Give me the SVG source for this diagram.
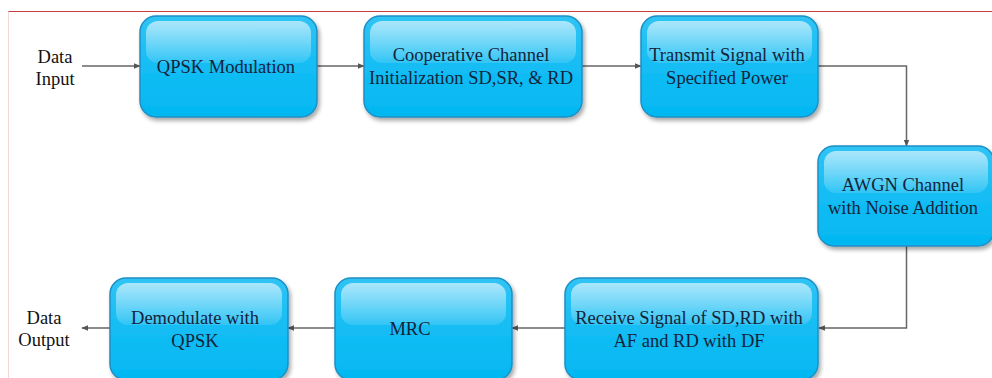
<svg xmlns="http://www.w3.org/2000/svg" width="992" height="378" viewBox="0 0 992 378">
<defs>
<linearGradient id="body" x1="0" y1="0" x2="0" y2="1">
<stop offset="0" stop-color="#30c4f5"/>
<stop offset="0.5" stop-color="#14bdf4"/>
<stop offset="1" stop-color="#03b7f1"/>
</linearGradient>
<linearGradient id="gloss" x1="0" y1="0" x2="0" y2="1">
<stop offset="0" stop-color="#ffffff" stop-opacity="0.6"/>
<stop offset="1" stop-color="#ffffff" stop-opacity="0.12"/>
</linearGradient>
<filter id="sh" x="-10%" y="-10%" width="125%" height="130%">
<feGaussianBlur in="SourceAlpha" stdDeviation="2"/>
<feOffset dx="2" dy="3" result="b"/>
<feComponentTransfer><feFuncA type="linear" slope="0.35"/></feComponentTransfer>
<feMerge><feMergeNode/><feMergeNode in="SourceGraphic"/></feMerge>
</filter>
<marker id="arr" viewBox="0 0 10 10" refX="9" refY="5" markerWidth="7" markerHeight="7" orient="auto" markerUnits="userSpaceOnUse">
<path d="M0,1 L10,5 L0,9 Z" fill="#555"/>
</marker>
</defs>
<style>
.box{fill:url(#body);stroke:#1f8fc4;stroke-width:1.5;filter:url(#sh)}
.gl{fill:url(#gloss)}
text{font-family:"Liberation Serif","DejaVu Serif","Times New Roman",serif;font-size:18.5px;text-anchor:middle}
.t{fill:#14233a}
.lbl{fill:#111}
.c{fill:none;stroke:#666;stroke-width:1.5;marker-end:url(#arr)}
</style>
<rect width="992" height="378" fill="#fff"/>
<line x1="8" y1="11.5" x2="992" y2="11.5" stroke="#c83c3c" stroke-width="1.2"/>
<line x1="8.5" y1="11.5" x2="8.5" y2="378" stroke="#f2d8d8" stroke-width="1"/>

<g id="connectors">
<path class="c" d="M82,66 H140"/>
<path class="c" d="M317,66 H364"/>
<path class="c" d="M582,66 H641"/>
<path class="c" d="M818,66 H906.5 V146"/>
<path class="c" d="M906.5,246 V328 H819"/>
<path class="c" d="M565,328 H512"/>
<path class="c" d="M335,328 H288"/>
<path class="c" d="M110,328 H82"/>
</g>

<g id="data-input">
<text class="lbl" x="55" y="63">Data</text>
<text class="lbl" x="55" y="85">Input</text>
</g>
<g id="qpsk-mod">
<rect class="box" x="140" y="16" width="177" height="101" rx="16"/>
<rect class="gl" x="146" y="21" width="165" height="42" rx="12"/>
<text class="t" x="226" y="73">QPSK Modulation</text>
</g>
<g id="coop">
<rect class="box" x="364" y="16" width="218" height="101" rx="16"/>
<rect class="gl" x="370" y="21" width="206" height="42" rx="12"/>
<text class="t" x="471" y="61">Cooperative Channel</text>
<text class="t" x="471" y="84">Initialization SD,SR, &amp; RD</text>
</g>
<g id="transmit">
<rect class="box" x="641" y="16" width="177" height="101" rx="16"/>
<rect class="gl" x="647" y="21" width="165" height="42" rx="12"/>
<text class="t" x="727" y="61">Transmit Signal with</text>
<text class="t" x="727" y="84">Specified Power</text>
</g>
<g id="awgn">
<rect class="box" x="818" y="146" width="176" height="100" rx="16"/>
<rect class="gl" x="824" y="151" width="164" height="42" rx="12"/>
<text class="t" x="903" y="191">AWGN Channel</text>
<text class="t" x="903" y="214">with Noise Addition</text>
</g>
<g id="receive">
<rect class="box" x="565" y="278" width="253" height="102" rx="16"/>
<rect class="gl" x="571" y="283" width="241" height="42" rx="12"/>
<text class="t" x="689" y="324">Receive Signal of SD,RD with</text>
<text class="t" x="689" y="347">AF and RD with DF</text>
</g>
<g id="mrc">
<rect class="box" x="335" y="278" width="177" height="102" rx="16"/>
<rect class="gl" x="341" y="283" width="165" height="42" rx="12"/>
<text class="t" x="410" y="335">MRC</text>
</g>
<g id="demod">
<rect class="box" x="110" y="278" width="178" height="102" rx="16"/>
<rect class="gl" x="116" y="283" width="166" height="42" rx="12"/>
<text class="t" x="195" y="324">Demodulate with</text>
<text class="t" x="195" y="347">QPSK</text>
</g>
<g id="data-output">
<text class="lbl" x="44" y="324">Data</text>
<text class="lbl" x="44" y="346">Output</text>
</g>
</svg>
